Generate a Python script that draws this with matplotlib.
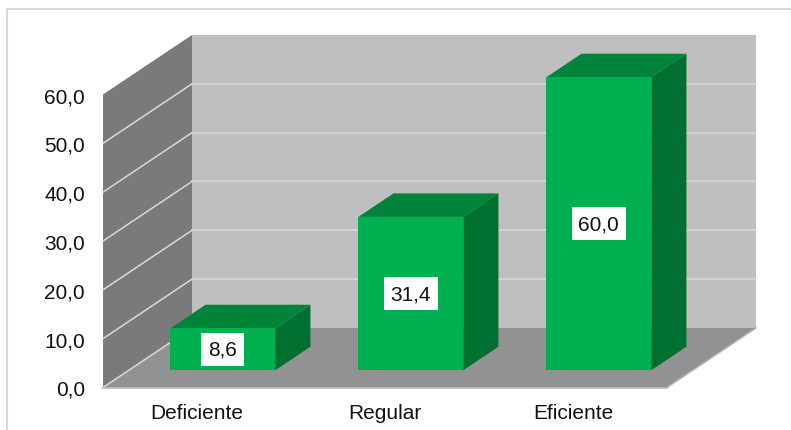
import matplotlib
matplotlib.use("Agg")
import matplotlib.pyplot as plt
from matplotlib.lines import Line2D
from matplotlib.patches import Polygon

categories = ["Deficiente", "Regular", "Eficiente"]
values = [8.6, 31.4, 60.0]
y_ticks = [0, 10, 20, 30, 40, 50, 60]

W, H = 791, 431
DEPTH_X = 89 / 188   # shift of the full depth, in category units
DEPTH_Y = 59.5 / 4.883  # same in value units
BAR_WIDTH = 0.558
BAR_FRONT = 0.29
BAR_BACK = 0.685

plt.rcParams["font.family"] = ["Liberation Sans", "DejaVu Sans"]

fig = plt.figure(figsize=(W / 100, H / 100), dpi=100, facecolor="white")
# axes is the front plane of the 3d box
ax = fig.add_axes([103 / W, 1 - 388.5 / H, 564 / W, 293 / H])
ax.set_xlim(-0.5, 2.5)
ax.set_ylim(0, 60)
ax.patch.set_visible(False)
for s in ax.spines.values():
    s.set_visible(False)


def proj(x, v, d):
    return x + DEPTH_X * d, v + DEPTH_Y * d


def face(points, color, z, edge="none"):
    ax.add_patch(Polygon([proj(*p) for p in points], closed=True, facecolor=color,
                         edgecolor=edge, linewidth=1, clip_on=False, zorder=z))


def line(p0, p1, z=2, color="#d9d9d9"):
    a, b = proj(*p0), proj(*p1)
    ax.plot([a[0], b[0]], [a[1], b[1]], color=color, lw=1.1, clip_on=False, zorder=z)


x0, x1 = -0.5, 2.5
top = y_ticks[-1]
face([(x0, 0, 1), (x1, 0, 1), (x1, top, 1), (x0, top, 1)], "#bfbfbf", 1)
face([(x0, 0, 0), (x0, 0, 1), (x0, top, 1), (x0, top, 0)], "#7a7a7a", 1)
face([(x0, 0, 0), (x1, 0, 0), (x1, 0, 1), (x0, 0, 1)], "#929292", 1)

for t in y_ticks[1:-1]:
    line((x0, t, 0), (x0, t, 1))
    line((x0, t, 1), (x1, t, 1))
line((x0, 0, 0), (x0, 0, 1))
line((x0, 0, 0), (x1, 0, 0), color="#b5b5b5")
line((x1, 0, 0), (x1, 0, 1), color="#b5b5b5")

for i, v in enumerate(values):
    l, r = i - BAR_WIDTH / 2, i + BAR_WIDTH / 2
    z = 3 + i
    face([(l, v, BAR_FRONT), (r, v, BAR_FRONT), (r, v, BAR_BACK), (l, v, BAR_BACK)], "#00843c", z)
    face([(r, 0, BAR_FRONT), (r, 0, BAR_BACK), (r, v, BAR_BACK), (r, v, BAR_FRONT)], "#007031", z)
    face([(l, 0, BAR_FRONT), (r, 0, BAR_FRONT), (r, v, BAR_FRONT), (l, v, BAR_FRONT)], "#00b050", z)
    cx, cy = proj(i, v / 2, BAR_FRONT)
    ax.text(cx, cy, f"{v:.1f}".replace(".", ","), ha="center", va="center", fontsize=15,
            color="#111111", zorder=10,
            bbox=dict(facecolor="white", edgecolor="none", pad=5))

ax.set_xticks(range(len(categories)))
ax.set_xticklabels(categories, fontsize=15, color="#111111")
ax.set_yticks(y_ticks)
ax.set_yticklabels([f"{t:.1f}".replace(".", ",") for t in y_ticks], fontsize=15, color="#111111")
ax.tick_params(axis="both", length=0)
ax.tick_params(axis="x", pad=11)
ax.tick_params(axis="y", pad=13)

# outer frame, only top and left show
fig.add_artist(Line2D([7 / W, 7 / W, 790 / W], [0, 1 - 10 / H, 1 - 10 / H], color="#d9d9d9", lw=1.5))

fig.savefig("out.png", dpi=100)
